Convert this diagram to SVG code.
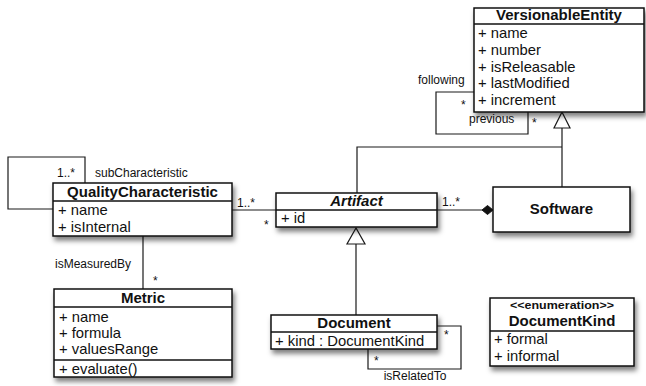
<svg xmlns="http://www.w3.org/2000/svg" width="646" height="386" viewBox="0 0 646 386">
<defs>
<filter id="sh" x="-10%" y="-10%" width="130%" height="150%">
<feDropShadow dx="2" dy="4" stdDeviation="2.5" flood-color="#000" flood-opacity="0.5"/>
</filter>
</defs>
<style>
text{font-family:"Liberation Sans",Arial,sans-serif;fill:#111}
.t{font-size:15px;font-weight:bold;text-anchor:middle}
.a{font-size:14.8px}
.l{font-size:12px}
.box{fill:#fff;stroke:#111;stroke-width:1.5}
.sep{stroke:#111;stroke-width:1.5}
.c{fill:none;stroke:#1a1a1a;stroke-width:1.2}
.tri{fill:#fff;stroke:#1a1a1a;stroke-width:1.2}
</style>
<rect width="646" height="386" fill="#fff"/>
<g id="connectors">
<path class="c" d="M474,92 H436 V134 H528 V112"/>
<path class="c" d="M562,128 V187 M562,147 H357 V193"/>
<polygon class="tri" points="562,112 554,128 570,128"/>
<path class="c" d="M232,210 H276"/>
<path class="c" d="M437,210 H482"/>
<polygon points="482,210 487.5,205.5 493,210 487.5,214.5" fill="#111" stroke="#111" stroke-width="1"/>
<path class="c" d="M53,209 H8 V157 H85 V183"/>
<path class="c" d="M143,236 V289"/>
<path class="c" d="M356,315 V244"/>
<polygon class="tri" points="356,228 347,244 365,244"/>
<path class="c" d="M437,326 H461 V369 H368 V349"/>
<text class="l" x="418" y="84">following</text>
<text class="l" x="461" y="109">*</text>
<text class="l" x="469" y="123">previous</text>
<text class="l" x="532" y="127">*</text>
<text class="l" x="57" y="177">1..*</text>
<text class="l" x="95" y="177">subCharacteristic</text>
<text class="l" x="237" y="207">1..*</text>
<text class="l" x="264" y="229">*</text>
<text class="l" x="442" y="206">1..*</text>
<text class="l" x="55" y="268">isMeasuredBy</text>
<text class="l" x="153" y="285">*</text>
<text class="l" x="444" y="339">*</text>
<text class="l" x="374" y="365">*</text>
<text class="l" x="415" y="380" text-anchor="middle">isRelatedTo</text>
</g>
<g id="VersionableEntity">
<rect class="box" x="474" y="8" width="170" height="104" filter="url(#sh)"/>
<line class="sep" x1="474" y1="24" x2="644" y2="24"/>
<text class="t" x="559" y="20">VersionableEntity</text>
<text class="a" x="478" y="38">+ name</text>
<text class="a" x="478" y="55">+ number</text>
<text class="a" x="478" y="71.5">+ isReleasable</text>
<text class="a" x="478" y="88">+ lastModified</text>
<text class="a" x="478" y="105">+ increment</text>
</g>
<g id="QualityCharacteristic">
<rect class="box" x="53" y="183" width="179" height="53" filter="url(#sh)"/>
<line class="sep" x1="53" y1="201" x2="232" y2="201"/>
<text class="t" x="142.5" y="197">QualityCharacteristic</text>
<text class="a" x="58" y="215">+ name</text>
<text class="a" x="58" y="232">+ isInternal</text>
</g>
<g id="Artifact">
<rect class="box" x="276" y="193" width="161" height="34" filter="url(#sh)"/>
<line class="sep" x1="276" y1="210" x2="437" y2="210"/>
<text class="t" x="356.5" y="206" font-style="italic">Artifact</text>
<text class="a" x="281" y="223">+ id</text>
</g>
<g id="Software">
<rect class="box" x="493" y="187" width="137" height="45" filter="url(#sh)"/>
<text class="t" x="561.5" y="214">Software</text>
</g>
<g id="Metric">
<rect class="box" x="54" y="289" width="178" height="88" filter="url(#sh)"/>
<line class="sep" x1="54" y1="307" x2="232" y2="307"/>
<line class="sep" x1="54" y1="360" x2="232" y2="360"/>
<text class="t" x="143" y="303">Metric</text>
<text class="a" x="59" y="322">+ name</text>
<text class="a" x="59" y="338">+ formula</text>
<text class="a" x="59" y="354">+ valuesRange</text>
<text class="a" x="59" y="374">+ evaluate()</text>
</g>
<g id="Document">
<rect class="box" x="271" y="315" width="166" height="34" filter="url(#sh)"/>
<line class="sep" x1="271" y1="332" x2="437" y2="332"/>
<text class="t" x="354" y="328">Document</text>
<text class="a" x="275" y="346">+ kind : DocumentKind</text>
</g>
<g id="DocumentKind">
<rect class="box" x="490" y="298" width="144" height="68" filter="url(#sh)"/>
<line class="sep" x1="490" y1="331" x2="634" y2="331"/>
<text x="562" y="309" font-size="10.5" font-weight="bold" text-anchor="middle" textLength="104" lengthAdjust="spacingAndGlyphs">&lt;&lt;enumeration&gt;&gt;</text>
<text class="t" x="562" y="326">DocumentKind</text>
<text class="a" x="494" y="344">+ formal</text>
<text class="a" x="494" y="361">+ informal</text>
</g>
</svg>
